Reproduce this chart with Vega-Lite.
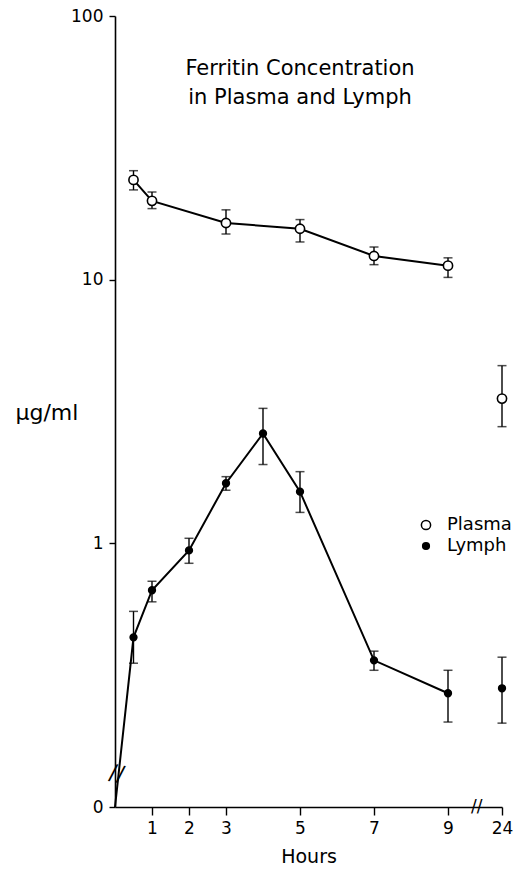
{
  "$schema": "https://vega.github.io/schema/vega-lite/v6.json",
  "autosize": {"type": "none"},
  "padding": {"left": 115, "top": 16, "right": 12, "bottom": 64},
  "width": 390,
  "height": 791,
  "background": "white",
  "config": {
    "view": {"stroke": null},
    "font": "DejaVu Sans",
    "axis": {"domainColor": "black", "tickColor": "black", "labelColor": "black", "titleColor": "black", "grid": false, "domainWidth": 1.6, "tickWidth": 1.4, "labelFont": "DejaVu Sans", "titleFont": "DejaVu Sans", "titleFontWeight": "normal"},
    "legend": {"labelFontSize": 18, "labelFont": "DejaVu Sans", "labelColor": "black", "symbolType": "circle", "rowPadding": 3, "labelOffset": 12}
  },
  "data": {"values": [
    {"series": "Plasma", "hour": 0.5, "value": 23.9, "lo": 21.9, "hi": 25.9},
    {"series": "Plasma", "hour": 1, "value": 19.9, "lo": 18.6, "hi": 21.5},
    {"series": "Plasma", "hour": 3, "value": 16.4, "lo": 14.9, "hi": 18.4},
    {"series": "Plasma", "hour": 5, "value": 15.6, "lo": 13.9, "hi": 16.9},
    {"series": "Plasma", "hour": 7, "value": 12.3, "lo": 11.4, "hi": 13.3},
    {"series": "Plasma", "hour": 9, "value": 11.3, "lo": 10.2, "hi": 12.1},
    {"series": "Plasma", "hour": 24, "value": 3.54, "lo": 2.77, "hi": 4.72},
    {"series": "Lymph", "hour": 0, "value": 0, "lo": null, "hi": null},
    {"series": "Lymph", "hour": 0.5, "value": 0.44, "lo": 0.351, "hi": 0.552},
    {"series": "Lymph", "hour": 1, "value": 0.664, "lo": 0.6, "hi": 0.718},
    {"series": "Lymph", "hour": 2, "value": 0.94, "lo": 0.84, "hi": 1.045},
    {"series": "Lymph", "hour": 3, "value": 1.69, "lo": 1.59, "hi": 1.79},
    {"series": "Lymph", "hour": 4, "value": 2.61, "lo": 1.99, "hi": 3.25},
    {"series": "Lymph", "hour": 5, "value": 1.57, "lo": 1.31, "hi": 1.87},
    {"series": "Lymph", "hour": 7, "value": 0.36, "lo": 0.33, "hi": 0.39},
    {"series": "Lymph", "hour": 9, "value": 0.27, "lo": 0.21, "hi": 0.33},
    {"series": "Lymph", "hour": 24, "value": 0.282, "lo": 0.208, "hi": 0.37}
  ]},
  "encoding": {
    "x": {"field": "hour", "type": "quantitative",
      "scale": {"domain": [0, 9, 24], "range": [0, 333, 387], "clamp": true},
      "axis": {"values": [1, 2, 3, 5, 7, 9, 24], "title": "Hours", "titleFontSize": 19, "titlePadding": 11, "labelFontSize": 17, "tickSize": 8, "labelPadding": 5, "labelFlush": false}}
  },
  "layer": [
    {
      "transform": [{"filter": "isValid(datum.lo)"}],
      "mark": {"type": "rule", "color": "black", "strokeWidth": 1.4},
      "encoding": {
        "y": {"field": "lo", "type": "quantitative", "scale": {"type": "log", "domain": [0.1, 100], "clamp": true},
          "axis": {"values": [0.1, 1, 10, 100], "labelExpr": "datum.value < 0.5 ? '0' : format(datum.value, 'd')", "title": "μg/ml", "titleAngle": 0, "titleX": -100, "titleY": 396, "titleAlign": "left", "titleBaseline": "middle", "titleFontSize": 22, "labelFontSize": 17, "tickSize": 6, "labelPadding": 6}},
        "y2": {"field": "hi"}
      }
    },
    {
      "transform": [{"filter": "isValid(datum.lo)"}],
      "mark": {"type": "tick", "orient": "horizontal", "color": "black", "size": 9, "thickness": 1.5},
      "encoding": {"y": {"field": "lo", "type": "quantitative"}}
    },
    {
      "transform": [{"filter": "isValid(datum.hi)"}],
      "mark": {"type": "tick", "orient": "horizontal", "color": "black", "size": 9, "thickness": 1.5},
      "encoding": {"y": {"field": "hi", "type": "quantitative"}}
    },
    {
      "transform": [{"filter": "datum.hour <= 9"}],
      "mark": {"type": "line", "color": "black", "strokeWidth": 2, "invalid": "show"},
      "encoding": {
        "y": {"field": "value", "type": "quantitative"},
        "detail": {"field": "series"}
      }
    },
    {
      "transform": [{"filter": "datum.hour > 0"}],
      "mark": {"type": "point", "shape": "circle", "filled": true, "stroke": "black", "strokeWidth": 1.6, "opacity": 1},
      "encoding": {
        "y": {"field": "value", "type": "quantitative"},
        "fill": {"field": "series", "type": "nominal", "scale": {"domain": ["Plasma", "Lymph"], "range": ["white", "black"]},
          "legend": {"title": null, "orient": "none", "legendX": 302, "legendY": 500, "encode": {"symbols": {"update": {"stroke": {"value": "black"}, "strokeWidth": {"value": 1.4}}}}}},
        "size": {"field": "series", "type": "nominal", "scale": {"domain": ["Plasma", "Lymph"], "range": [85, 45]},
          "legend": {"title": null, "orient": "none", "legendX": 302, "legendY": 500, "encode": {"symbols": {"update": {"stroke": {"value": "black"}, "strokeWidth": {"value": 1.4}}}}}}
      }
    },
    {
      "transform": [{"filter": "datum.hour == 24 && datum.series == 'Plasma'"}],
      "mark": {"type": "text", "fontSize": 21, "lineHeight": 29, "color": "black", "align": "center", "baseline": "middle"},
      "encoding": {"x": {"datum": 5}, "y": {"datum": 63}, "text": {"value": ["Ferritin Concentration", "in Plasma and Lymph"]}}
    },
    {
      "transform": [{"filter": "datum.hour == 24 && datum.series == 'Plasma'"}],
      "mark": {"type": "text", "fontSize": 22, "color": "black", "align": "center", "baseline": "middle", "text": "//", "angle": 10},
      "encoding": {"x": {"datum": 0.05}, "y": {"datum": 0.134}}
    },
    {
      "transform": [{"filter": "datum.hour == 24 && datum.series == 'Plasma'"}],
      "mark": {"type": "text", "fontSize": 17, "color": "black", "align": "center", "baseline": "middle", "text": "//"},
      "encoding": {"x": {"datum": 17}, "y": {"datum": 0.1}}
    }
  ]
}
